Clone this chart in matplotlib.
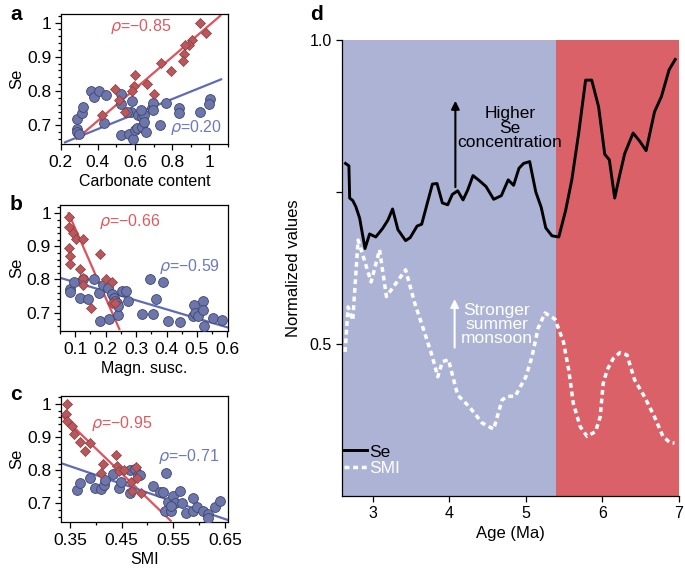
"""
plot.py
Se vs. carbonate / magnetic susceptibility / SMI scatter panels plus the Se & SMI time series.
"""

import matplotlib
matplotlib.use('Agg')
import matplotlib.pyplot as plt
from matplotlib.ticker import MultipleLocator

plt.rcParams['font.family'] = ['Liberation Sans', 'DejaVu Sans']

# ---------- Colours ----------
RED_PT = '#b8585c'
RED_EDGE = '#8a3a3e'
BLUE_PT = '#6d76a9'
BLUE_EDGE = '#3e4574'
RED_LINE = '#e0525b'
BLUE_LINE = '#5f6bb6'
RED_TXT = '#dc5a60'
BLUE_TXT = '#6f78ba'
BG_BLUE = '#adb3d5'
BG_RED = '#db6168'

# ---------- Panel a: carbonate content ----------
a_red_x = [0.951, 0.983, 0.906, 0.888, 0.867, 0.861, 0.858, 0.793, 0.739, 0.664, 0.600,
           0.592, 0.586, 0.700, 0.493, 0.516, 0.547, 0.421]
a_red_y = [1.000, 0.970, 0.950, 0.933, 0.933, 0.909, 0.887, 0.857, 0.883, 0.819, 0.847,
           0.814, 0.801, 0.792, 0.807, 0.775, 0.740, 0.730]
a_blue_x = [0.290, 0.286, 0.290, 0.301, 0.313, 0.322, 0.362, 0.381, 0.406, 0.444, 0.434,
            0.523, 0.523, 0.523, 0.565, 0.579, 0.586, 0.591, 0.600, 0.609, 0.618, 0.636,
            0.640, 0.649, 0.650, 0.659, 0.690, 0.699, 0.699, 0.732, 0.766, 0.634, 0.834,
            0.839, 0.951, 1.005, 0.999, 0.559]
a_blue_y = [0.718, 0.690, 0.680, 0.673, 0.735, 0.753, 0.801, 0.781, 0.799, 0.789, 0.705,
            0.791, 0.761, 0.670, 0.675, 0.740, 0.770, 0.660, 0.685, 0.692, 0.730, 0.725,
            0.695, 0.730, 0.708, 0.680, 0.750, 0.764, 0.745, 0.700, 0.765, 0.745, 0.750,
            0.737, 0.740, 0.776, 0.762, 0.738]
a_red_fit = ([0.286, 1.059], [0.660, 1.020])
a_blue_fit = ([0.223, 1.063], [0.650, 0.834])

# ---------- Panel b: magnetic susceptibility ----------
b_red_x = [0.078, 0.081, 0.092, 0.103, 0.127, 0.078, 0.084, 0.084, 0.116, 0.125, 0.127,
           0.151, 0.182, 0.202, 0.220, 0.220, 0.231]
b_red_y = [0.990, 0.960, 0.940, 0.922, 0.922, 0.895, 0.872, 0.848, 0.832, 0.805, 0.782,
           0.715, 0.878, 0.802, 0.792, 0.730, 0.728]
b_blue_x = [0.084, 0.084, 0.095, 0.116, 0.127, 0.142, 0.162, 0.177, 0.182, 0.191, 0.209,
            0.212, 0.220, 0.226, 0.231, 0.237, 0.239, 0.242, 0.253, 0.267, 0.275, 0.319,
            0.346, 0.355, 0.366, 0.390, 0.404, 0.444, 0.486, 0.490, 0.493, 0.504, 0.521,
            0.521, 0.523, 0.554, 0.581]
b_blue_y = [0.770, 0.762, 0.792, 0.745, 0.800, 0.740, 0.802, 0.760, 0.675, 0.782, 0.775,
            0.680, 0.755, 0.745, 0.735, 0.728, 0.692, 0.720, 0.765, 0.765, 0.735, 0.695,
            0.800, 0.695, 0.742, 0.792, 0.675, 0.670, 0.688, 0.722, 0.700, 0.688, 0.735,
            0.708, 0.660, 0.682, 0.677]
b_red_fit = ([0.078, 0.245], [1.000, 0.650])
b_blue_fit = ([0.050, 0.608], [0.805, 0.653])

# ---------- Panel c: SMI ----------
c_red_x = [0.344, 0.342, 0.344, 0.353, 0.358, 0.369, 0.379, 0.389, 0.413, 0.411, 0.439,
           0.442, 0.444, 0.455, 0.469, 0.471, 0.478, 0.479, 0.487]
c_red_y = [1.000, 0.970, 0.949, 0.933, 0.909, 0.886, 0.859, 0.883, 0.820, 0.792, 0.847,
           0.812, 0.799, 0.802, 0.764, 0.738, 0.810, 0.777, 0.733]
c_blue_x = [0.364, 0.369, 0.389, 0.398, 0.411, 0.415, 0.418, 0.433, 0.444, 0.448, 0.467,
            0.467, 0.476, 0.482, 0.510, 0.524, 0.536, 0.540, 0.534, 0.545, 0.550, 0.553,
            0.545, 0.563, 0.566, 0.574, 0.589, 0.589, 0.596, 0.608, 0.618, 0.618, 0.631,
            0.640, 0.485, 0.530]
c_blue_y = [0.741, 0.762, 0.777, 0.748, 0.743, 0.757, 0.772, 0.790, 0.748, 0.764, 0.802,
            0.733, 0.804, 0.787, 0.752, 0.735, 0.792, 0.703, 0.678, 0.678, 0.723, 0.701,
            0.693, 0.738, 0.701, 0.671, 0.718, 0.678, 0.688, 0.678, 0.668, 0.656, 0.688,
            0.708, 0.785, 0.735]
c_red_fit = ([0.334, 0.545], [0.965, 0.648])
c_blue_fit = ([0.332, 0.656], [0.822, 0.650])
c_ticks = [0.35, 0.45, 0.55, 0.65]

# ---------- Panel d: time series ----------
se_age = [2.645, 2.69, 2.70, 2.74, 2.78, 2.83, 2.90, 2.96, 3.04, 3.13, 3.20, 3.26, 3.33,
          3.43, 3.49, 3.58, 3.64, 3.71, 3.78, 3.84, 3.91, 3.98, 4.04, 4.11, 4.18, 4.24,
          4.31, 4.39, 4.48, 4.58, 4.68, 4.77, 4.84, 4.91, 4.97, 5.05, 5.08, 5.13, 5.20,
          5.26, 5.34, 5.43, 5.52, 5.60, 5.69, 5.78, 5.86, 5.95, 6.03, 6.09, 6.16, 6.22,
          6.29, 6.40, 6.49, 6.57, 6.68, 6.77, 6.87, 6.95]
se_val = [0.797, 0.793, 0.740, 0.736, 0.726, 0.707, 0.657, 0.681, 0.676, 0.690, 0.704,
          0.722, 0.688, 0.670, 0.675, 0.694, 0.697, 0.730, 0.763, 0.764, 0.732, 0.729,
          0.746, 0.752, 0.737, 0.753, 0.777, 0.769, 0.759, 0.738, 0.744, 0.770, 0.761,
          0.789, 0.797, 0.800, 0.781, 0.750, 0.725, 0.691, 0.678, 0.676, 0.720, 0.770,
          0.847, 0.934, 0.934, 0.890, 0.812, 0.803, 0.740, 0.775, 0.813, 0.847, 0.833,
          0.818, 0.882, 0.907, 0.951, 0.968]
smi_age = [2.64, 2.68, 2.74, 2.81, 2.98, 3.09, 3.18, 3.43, 3.55, 3.68, 3.78, 3.85, 3.91,
           3.99, 4.11, 4.26, 4.43, 4.58, 4.69, 4.76, 4.86, 5.00, 5.08, 5.16, 5.25, 5.38,
           5.49, 5.56, 5.62, 5.71, 5.80, 5.91, 5.97, 6.01, 6.06, 6.14, 6.23, 6.32, 6.42,
           6.55, 6.68, 6.79, 6.88, 6.94]
smi_val = [0.487, 0.561, 0.539, 0.671, 0.602, 0.655, 0.578, 0.622, 0.567, 0.518, 0.479,
           0.446, 0.471, 0.474, 0.416, 0.397, 0.370, 0.360, 0.408, 0.414, 0.414, 0.446,
           0.479, 0.526, 0.551, 0.541, 0.504, 0.457, 0.402, 0.364, 0.348, 0.356, 0.380,
           0.435, 0.457, 0.476, 0.486, 0.482, 0.441, 0.413, 0.380, 0.348, 0.338, 0.337]


# ---------- Helper: one scatter panel ----------
def _scatter_panel(ax, rx, ry, bx, by, rfit, bfit, xlim, xmajor, xminor, xfmt,
                   rho_red, rho_red_xy, rho_blue, rho_blue_xy, xlabel):
    ax.plot(rfit[0], rfit[1], color=RED_LINE, lw=1.6, zorder=2)
    ax.plot(bfit[0], bfit[1], color=BLUE_LINE, lw=1.6, zorder=2)
    ax.scatter(bx, by, s=50, marker='o', color=BLUE_PT, edgecolor=BLUE_EDGE,
               linewidth=0.6, zorder=3)
    ax.scatter(rx, ry, s=26, marker='D', color=RED_PT, edgecolor=RED_EDGE,
               linewidth=0.5, zorder=4)
    ax.set_xlim(*xlim)
    ax.set_ylim(0.645, 1.025)
    ax.xaxis.set_major_locator(MultipleLocator(xmajor))
    ax.xaxis.set_minor_locator(MultipleLocator(xminor))
    ax.yaxis.set_major_locator(MultipleLocator(0.1))
    ax.yaxis.set_minor_locator(MultipleLocator(0.02))
    ax.xaxis.set_major_formatter(plt.FuncFormatter(xfmt))
    ax.yaxis.set_major_formatter(plt.FuncFormatter(lambda v, p: f'{v:g}'))
    ax.tick_params(which='both', direction='out', labelsize=12.5, width=0.9, pad=2.5)
    ax.tick_params(axis='x', which='both', pad=4)
    ax.tick_params(which='major', length=4)
    ax.tick_params(which='minor', length=2.5)
    for sp in ax.spines.values():
        sp.set_linewidth(0.9)
    ax.set_ylabel('Se', fontsize=12, labelpad=2)
    ax.set_xlabel(xlabel, fontsize=11.5, labelpad=3)
    ax.text(*rho_red_xy, rho_red, color=RED_TXT, fontsize=11.5, ha='center', va='center')
    ax.text(*rho_blue_xy, rho_blue, color=BLUE_TXT, fontsize=11.5, ha='center', va='center')


fig = plt.figure(figsize=(6.85, 5.69), dpi=100)

ax_a = fig.add_axes([0.0886, 0.7469, 0.2442, 0.2285])
ax_b = fig.add_axes([0.0876, 0.4188, 0.2452, 0.2209])
ax_c = fig.add_axes([0.0886, 0.0831, 0.2442, 0.2215])
ax_d = fig.add_axes([0.4993, 0.1283, 0.4920, 0.8014])

_scatter_panel(ax_a, a_red_x, a_red_y, a_blue_x, a_blue_y, a_red_fit, a_blue_fit,
               (0.2, 1.1), 0.2, 0.1, lambda v, p: f'{v:g}',
               r'$\rho$=−0.85', (0.63, 0.988), r'$\rho$=0.20', (0.93, 0.692),
               'Carbonate content')
_scatter_panel(ax_b, b_red_x, b_red_y, b_blue_x, b_blue_y, b_red_fit, b_blue_fit,
               (0.05, 0.602), 0.1, 0.05, lambda v, p: f'{v:g}',
               r'$\rho$=−0.66', (0.28, 0.975), r'$\rho$=−0.59', (0.475, 0.84),
               'Magn. susc.')
_scatter_panel(ax_c, c_red_x, c_red_y, c_blue_x, c_blue_y, c_red_fit, c_blue_fit,
               (0.332, 0.656), 0.1, 0.05, lambda v, p: f'{v:.2f}',
               r'$\rho$=−0.95', (0.45, 0.94), r'$\rho$=−0.71', (0.58, 0.842), 'SMI')
ax_c.set_xticks(c_ticks)

# ---------- Panel d ----------
ax_d.axvspan(2.6, 5.4, color=BG_BLUE, lw=0, zorder=0)
ax_d.axvspan(5.4, 7.0, color=BG_RED, lw=0, zorder=0)
ax_d.plot(se_age, se_val, color='black', lw=2.1, label='Se', zorder=3)
ax_d.plot(smi_age, smi_val, color='white', lw=2.5, dashes=(1.4, 1.1),
          label='SMI', zorder=3)
ax_d.set_xlim(2.6, 7.0)
ax_d.set_ylim(0.25, 1.0)
ax_d.set_xticks([3, 4, 5, 6, 7])
ax_d.set_yticks([0.5, 0.75, 1.0])
ax_d.set_yticklabels(['0.5', '', '1.0'])
ax_d.tick_params(direction='out', length=4, width=0.9, labelsize=11.5)
for side in ('top', 'right'):
    ax_d.spines[side].set_visible(False)
for side in ('left', 'bottom'):
    ax_d.spines[side].set_linewidth(0.9)
ax_d.set_xlabel('Age (Ma)', fontsize=12, labelpad=3)
ax_d.set_ylabel('Normalized values', fontsize=12, labelpad=6)

ax_d.annotate('', xy=(4.08, 0.9), xytext=(4.08, 0.758),
              arrowprops=dict(arrowstyle='-|>', color='black', lw=1.5,
                              mutation_scale=12, shrinkA=0, shrinkB=0))
ax_d.text(4.79, 0.855, 'Higher\nSe\nconcentration', ha='center', va='center',
          fontsize=12.5, linespacing=0.95, zorder=4)
ax_d.annotate('', xy=(4.07, 0.574), xytext=(4.07, 0.494),
              arrowprops=dict(arrowstyle='-|>', color='white', lw=1.5,
                              mutation_scale=12, shrinkA=0, shrinkB=0))
ax_d.text(4.62, 0.532, 'Stronger\nsummer\nmonsoon', ha='center', va='center',
          fontsize=12.5, color='white', linespacing=0.95, zorder=4)

leg = ax_d.legend(loc='lower left', bbox_to_anchor=(-0.025, 0.02), frameon=False,
                  fontsize=12.5, handlelength=1.3, handletextpad=0.15,
                  labelspacing=0.1, borderaxespad=0.2)
leg.get_texts()[1].set_color('white')

# ---------- Panel letters ----------
for letter, (x, y) in zip('abcd', [(10, 14), (10, 204), (10, 394), (310, 14)]):
    fig.text(x / 685, 1 - y / 569, letter, fontsize=15, fontweight='bold',
             ha='left', va='center')

fig.savefig('out.png', dpi=100)
